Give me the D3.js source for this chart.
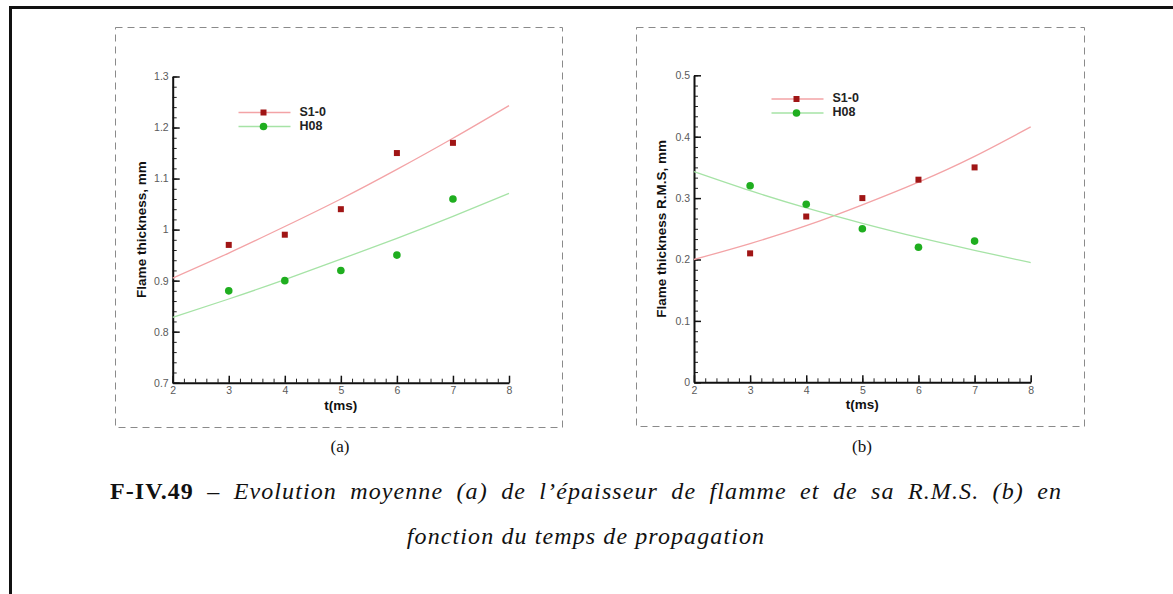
<!DOCTYPE html>
<html><head><meta charset="utf-8">
<script src="https://cdn.jsdelivr.net/npm/d3@7"></script>
<style>
html,body{margin:0;padding:0;background:#fff;}
svg{display:block;}
</style></head>
<body>
<svg id="chart" width="1173" height="594"></svg>
<script>
// ---- data ----
const times = [3, 4, 5, 6, 7];
const seriesNames = ["S1-0", "H08"];
// panel (a): flame thickness, mm
const thickS10 = [0.97, 0.99, 1.04, 1.15, 1.17];
const thickH08 = [0.88, 0.90, 0.92, 0.95, 1.06];
// panel (b): flame thickness R.M.S., mm
const rmsS10 = [0.21, 0.27, 0.30, 0.33, 0.35];
const rmsH08 = [0.32, 0.29, 0.25, 0.22, 0.23];
// fitted curves
const fitX = [2, 3, 4, 5, 6, 7, 8];
const fitThickS10 = [0.905, 0.954, 1.006, 1.060, 1.118, 1.179, 1.243];
const fitThickH08 = [0.828, 0.864, 0.902, 0.942, 0.983, 1.026, 1.071];
const fitRmsS10 = [0.200, 0.226, 0.255, 0.289, 0.326, 0.368, 0.416];
const fitRmsH08 = [0.343, 0.312, 0.284, 0.259, 0.236, 0.215, 0.195];
// ticks
const xTicks = [2, 3, 4, 5, 6, 7, 8];
const yTicksA = [0.7, 0.8, 0.9, 1.0, 1.1, 1.2, 1.3];
const yTickLabelsA = ["0.7", "0.8", "0.9", "1", "1.1", "1.2", "1.3"];
const yTicksB = [0, 0.1, 0.2, 0.3, 0.4, 0.5];
const yTickLabelsB = ["0", "0.1", "0.2", "0.3", "0.4", "0.5"];

const colors = {
  "S1-0": {marker: "#a01515", line: "#f3a3a6"},
  "H08": {marker: "#1fae1f", line: "#a6e3a6"}
};

const svg = d3.select("#chart");
const sans = "'Liberation Sans', Arial, sans-serif";
const serif = "'Liberation Serif', 'Times New Roman', serif";

// outer frame (top and left)
svg.append("path").attr("d", "M10.5,594 L10.5,7.5 L1173,7.5")
  .attr("fill", "none").attr("stroke", "#111").attr("stroke-width", 3);

function panel(cfg) {
  const g = svg.append("g");
  // dashed box
  g.append("rect").attr("x", cfg.box[0]).attr("y", cfg.box[1])
    .attr("width", cfg.box[2] - cfg.box[0]).attr("height", cfg.box[3] - cfg.box[1])
    .attr("fill", "none").attr("stroke", "#8a8a8a").attr("stroke-width", 1)
    .attr("stroke-dasharray", "7,5");

  const x = d3.scaleLinear().domain([2, 8]).range(cfg.xr);
  const y = d3.scaleLinear().domain(cfg.yd).range(cfg.yr);

  // minor ticks
  const xMinor = d3.range(2, 8.0001, 0.2).map(v => +v.toFixed(2));
  const yStep = (cfg.yd[1] - cfg.yd[0]) / 30;
  const yMinor = d3.range(0, 31).map(i => +(cfg.yd[0] + i * yStep).toFixed(4));

  const gx = g.append("g").attr("transform", `translate(0,${cfg.yr[0]})`);
  gx.append("g").call(d3.axisBottom(x).tickValues(xMinor).tickSize(-4).tickFormat("").tickSizeOuter(0))
    .call(s => s.select(".domain").remove())
    .selectAll("line").attr("stroke", "#222").attr("stroke-width", 1);
  gx.append("g").call(d3.axisBottom(x).tickValues(xTicks).tickSize(-7).tickPadding(4).tickSizeOuter(0).tickFormat(d3.format("d")))
    .call(s => s.select(".domain").attr("stroke", "#111").attr("stroke-width", 2))
    .call(s => s.selectAll("line").attr("stroke", "#111").attr("stroke-width", 1.5))
    .call(s => s.selectAll("text").attr("font-family", sans).attr("font-size", 10.5).attr("fill", "#5a5a5a"));

  const gy = g.append("g").attr("transform", `translate(${cfg.xr[0]},0)`);
  gy.append("g").call(d3.axisLeft(y).tickValues(yMinor).tickSize(-4).tickFormat("").tickSizeOuter(0))
    .call(s => s.select(".domain").remove())
    .selectAll("line").attr("stroke", "#222").attr("stroke-width", 1);
  gy.append("g").call(d3.axisLeft(y).tickValues(cfg.yt).tickSize(-7).tickPadding(4).tickSizeOuter(0)
      .tickFormat((d, i) => cfg.ytl[i]))
    .call(s => s.select(".domain").attr("stroke", "#111").attr("stroke-width", 2))
    .call(s => s.selectAll("line").attr("stroke", "#111").attr("stroke-width", 1.5))
    .call(s => s.selectAll("text").attr("font-family", sans).attr("font-size", 10.5).attr("fill", "#5a5a5a"));

  // axis titles
  g.append("text").attr("x", (cfg.xr[0] + cfg.xr[1]) / 2).attr("y", cfg.yr[0] + 27)
    .attr("text-anchor", "middle").attr("font-family", sans).attr("font-weight", "bold")
    .attr("font-size", 13.5).attr("fill", "#111").text("t(ms)");
  g.append("text")
    .attr("transform", `translate(${cfg.ytitleX},${(cfg.yr[0] + cfg.yr[1]) / 2}) rotate(-90)`)
    .attr("text-anchor", "middle").attr("dominant-baseline", "middle")
    .attr("font-family", sans).attr("font-weight", "bold")
    .attr("font-size", 13.5).attr("fill", "#111").text(cfg.ytitle);

  const line = d3.line().x(d => x(d[0])).y(d => y(d[1])).curve(d3.curveNatural);

  cfg.series.forEach(s => {
    const c = colors[s.name];
    g.append("path").datum(fitX.map((t, i) => [t, s.fit[i]]))
      .attr("d", line).attr("fill", "none").attr("stroke", c.line).attr("stroke-width", 1.3);
  });
  cfg.series.forEach(s => {
    const c = colors[s.name];
    const pts = times.map((t, i) => [t, s.vals[i]]);
    if (s.name === "S1-0") {
      g.selectAll(null).data(pts).enter().append("rect")
        .attr("x", d => x(d[0]) - 3).attr("y", d => y(d[1]) - 3)
        .attr("width", 6).attr("height", 6).attr("fill", c.marker);
    } else {
      g.selectAll(null).data(pts).enter().append("circle")
        .attr("cx", d => x(d[0])).attr("cy", d => y(d[1])).attr("r", 3.8).attr("fill", c.marker);
    }
  });

  // legend
  const lg = g.append("g").attr("transform", `translate(${cfg.legend[0]},${cfg.legend[1]})`);
  seriesNames.forEach((n, i) => {
    const c = colors[n];
    const yy = i * 14;
    lg.append("line").attr("x1", 0).attr("x2", 52).attr("y1", yy).attr("y2", yy)
      .attr("stroke", c.line).attr("stroke-width", 1.3);
    if (n === "S1-0") {
      lg.append("rect").attr("x", 25 - 3).attr("y", yy - 3).attr("width", 6).attr("height", 6).attr("fill", c.marker);
    } else {
      lg.append("circle").attr("cx", 25).attr("cy", yy).attr("r", 3.8).attr("fill", c.marker);
    }
    lg.append("text").attr("x", 61).attr("y", yy).attr("dominant-baseline", "middle")
      .attr("font-family", sans).attr("font-weight", "bold").attr("font-size", 12.5)
      .attr("fill", "#222").text(n);
  });

  // sub label
  svg.append("text").attr("x", cfg.subX).attr("y", 452).attr("text-anchor", "middle")
    .attr("font-family", serif).attr("font-size", 17).attr("fill", "#111").text(cfg.sub);
}

panel({
  box: [115.5, 27.5, 562.5, 427.5],
  xr: [172.7, 509], yr: [382.7, 76.5], yd: [0.7, 1.3],
  yt: yTicksA, ytl: yTickLabelsA,
  ytitle: "Flame thickness, mm", ytitleX: 142,
  series: [
    {name: "S1-0", vals: thickS10, fit: fitThickS10},
    {name: "H08", vals: thickH08, fit: fitThickH08}
  ],
  legend: [238.5, 112.5], sub: "(a)", subX: 340
});

panel({
  box: [636.5, 27.5, 1084.5, 426.5],
  xr: [694, 1030.7], yr: [382.3, 75.3], yd: [0, 0.5],
  yt: yTicksB, ytl: yTickLabelsB,
  ytitle: "Flame thickness R.M.S, mm", ytitleX: 662,
  series: [
    {name: "S1-0", vals: rmsS10, fit: fitRmsS10},
    {name: "H08", vals: rmsH08, fit: fitRmsH08}
  ],
  legend: [771.5, 99], sub: "(b)", subX: 862
});

// caption
const capSize = 24;
const ls = 1.1;
const cap1 = svg.append("text").attr("x", 110).attr("y", 499)
  .attr("font-family", serif).attr("font-size", capSize).attr("fill", "#111")
  .attr("letter-spacing", ls);
cap1.append("tspan").attr("font-weight", "bold").text("F-IV.49");
cap1.append("tspan").text(" – ");
cap1.append("tspan").attr("font-style", "italic")
  .text("Evolution moyenne (a) de l’épaisseur de flamme et de sa R.M.S. (b) en");
const w1 = cap1.node().getComputedTextLength();
const nSpaces = (cap1.text().match(/ /g) || []).length;
cap1.attr("word-spacing", Math.max(0, (952 - w1) / nSpaces));

svg.append("text").attr("x", 586).attr("y", 544).attr("text-anchor", "middle")
  .attr("font-family", serif).attr("font-size", capSize).attr("font-style", "italic")
  .attr("letter-spacing", ls).attr("fill", "#111").text("fonction du temps de propagation");
</script>
</body></html>
